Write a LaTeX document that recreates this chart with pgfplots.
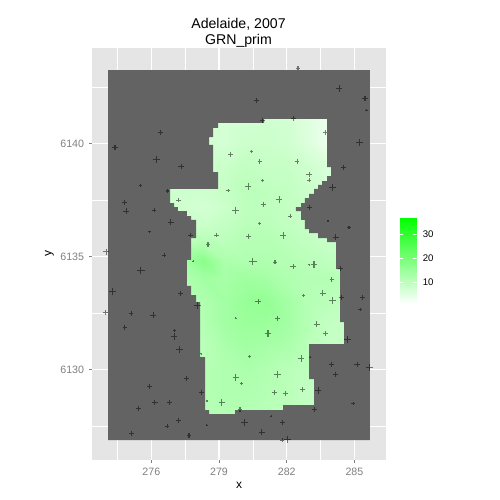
\documentclass[border=0pt]{standalone}
\usepackage{pgfplots}
\usepackage{pgfplotstable}
\usepackage{fontspec}
\setmainfont{Liberation Sans}
\pgfplotsset{compat=1.18}
\usepgfplotslibrary{patchplots}
\definecolor{panel}{HTML}{E5E5E5}
\definecolor{darkna}{HTML}{636363}
\definecolor{tickgrey}{HTML}{7F7F7F}
\pgfplotstableread{
x y v
276.5 6127.8 10.6
277.5 6127.8 11
278.3 6127.8 11.4
279.2 6127.8 11.4
280.2 6127.8 11.4
281.1 6127.8 10.6
282.0 6127.8 10
282.9 6127.8 9.4
283.8 6127.8 8.8
284.8 6127.8 8.8
276.5 6129 10.6
277.5 6129 11
278.3 6129 11.4
279.2 6129 12
280.2 6129 12
281.1 6129 11.4
282.0 6129 10.6
282.9 6129 9.4
283.8 6129 8.8
284.8 6129 8.8
276.5 6130 10.6
277.5 6130 11
278.3 6130 11.4
279.2 6130 12
280.2 6130 12.6
281.1 6130 12
282.0 6130 10.6
282.9 6130 10
283.8 6130 9.7
284.8 6130 9.7
276.5 6131 9.7
277.5 6131 10.6
278.3 6131 10.6
279.2 6131 12.6
280.2 6131 13.8
281.1 6131 13.2
282.0 6131 12.6
282.9 6131 10.6
283.8 6131 8.8
284.8 6131 8.8
276.5 6132 9.7
277.5 6132 10.6
278.3 6132 11.4
279.2 6132 13.8
280.2 6132 15
281.1 6132 15
282.0 6132 13.8
282.9 6132 11.4
283.8 6132 9.4
284.8 6132 8.8
276.5 6133 9.7
277.5 6133 10.6
278.3 6133 12
279.2 6133 13.8
280.2 6133 15.5
281.1 6133 16
282.0 6133 13.8
282.9 6133 11.4
283.8 6133 10.6
284.8 6133 9.4
276.5 6134 10.6
277.5 6134 12.3
278.3 6134 13.8
279.2 6134 13.2
280.2 6134 14.4
281.1 6134 13.8
282.0 6134 12
282.9 6134 11.4
283.8 6134 11.4
284.8 6134 10.6
276.5 6134.8 11.4
277.5 6134.8 14.1
278.3 6134.8 17.5
279.2 6134.8 12.6
280.2 6134.8 12
281.1 6134.8 12
282.0 6134.8 11.4
282.9 6134.8 10.6
283.8 6134.8 10
284.8 6134.8 9.7
276.5 6135.6 9.7
277.5 6135.6 10.6
278.3 6135.6 11.4
279.2 6135.6 10.6
280.2 6135.6 11.4
281.1 6135.6 11.4
282.0 6135.6 10.6
282.9 6135.6 9.7
283.8 6135.6 8.8
284.8 6135.6 8.8
276.5 6136.4 7.5
277.5 6136.4 7.9
278.3 6136.4 8.4
279.2 6136.4 9.4
280.2 6136.4 10.6
281.1 6136.4 10.6
282.0 6136.4 9.7
282.9 6136.4 8.8
283.8 6136.4 8.2
284.8 6136.4 7.9
276.5 6137.2 7.6
277.5 6137.2 7.6
278.3 6137.2 7
279.2 6137.2 8.2
280.2 6137.2 10
281.1 6137.2 10
282.0 6137.2 9.4
282.9 6137.2 8.4
283.8 6137.2 7.9
284.8 6137.2 7.9
276.5 6138 7.9
277.5 6138 7.9
278.3 6138 7.9
279.2 6138 8.8
280.2 6138 10.6
281.1 6138 10
282.0 6138 9.4
282.9 6138 8.2
283.8 6138 7
284.8 6138 7
276.5 6139 7.9
277.5 6139 7.9
278.3 6139 7.9
279.2 6139 8.4
280.2 6139 9.4
281.1 6139 8.8
282.0 6139 8.8
282.9 6139 7.6
283.8 6139 6.3
284.8 6139 6.2
276.5 6140 7
277.5 6140 7
278.3 6140 7
279.2 6140 7
280.2 6140 8.2
281.1 6140 8.2
282.0 6140 7.6
282.9 6140 5.7
283.8 6140 3.3
284.8 6140 3.5
276.5 6141.4 7
277.5 6141.4 7
278.3 6141.4 7
279.2 6141.4 6.6
280.2 6141.4 7
281.1 6141.4 7.5
282.0 6141.4 7
282.9 6141.4 5.7
283.8 6141.4 4
284.8 6141.4 3.5
}\fieldtable
\pgfplotstableread{
x y s
276.40 6140.49 7
274.39 6139.82 8
276.22 6139.29 11
277.32 6138.98 8
275.53 6138.12 5
276.73 6137.89 5
277.20 6137.49 7
279.52 6139.51 8
279.40 6137.90 5
282.50 6143.32 6
284.32 6142.43 10
285.47 6141.99 8
285.55 6141.47 4
280.65 6141.90 7
282.29 6141.11 7
280.92 6141.02 7
283.70 6140.49 7
285.22 6140.04 10
284.53 6138.94 7
284.04 6138.05 10
280.43 6139.63 5
280.81 6139.20 7
282.46 6139.20 7
282.99 6138.63 8
282.99 6138.36 6
280.94 6138.35 4
280.29 6138.10 10
281.66 6137.51 10
274.80 6137.39 7
274.88 6136.99 9
276.13 6137.04 6
279.74 6137.04 11
276.86 6136.50 9
275.93 6136.08 4
277.73 6135.94 7
278.88 6135.94 7
278.51 6135.53 7
274.01 6135.20 9
276.58 6135.04 6
277.86 6134.79 3
275.54 6134.38 11
274.27 6133.45 10
277.29 6133.36 8
278.04 6132.83 10
273.96 6132.52 7
275.10 6132.48 7
276.08 6132.39 9
279.75 6132.26 3
274.83 6131.86 7
277.04 6131.73 4
277.01 6131.46 10
277.24 6130.89 10
280.98 6137.30 8
283.00 6137.17 8
282.15 6136.77 6
280.79 6136.46 4
283.83 6136.55 3
284.76 6136.28 5
280.30 6135.89 8
281.84 6135.93 10
284.17 6135.84 9
280.50 6134.78 11
281.48 6134.73 6
282.28 6134.56 8
283.21 6134.65 10
283.00 6134.62 3
284.38 6134.47 8
284.00 6133.98 7
283.60 6133.36 9
282.74 6133.26 5
284.04 6133.05 10
284.42 6133.17 7
285.37 6133.19 8
280.73 6133.01 8
285.25 6132.66 5
281.60 6132.26 7
283.33 6131.99 9
281.17 6131.59 10
283.71 6131.59 8
284.68 6131.33 10
278.22 6130.69 3
277.55 6129.60 8
279.75 6129.65 10
275.91 6129.25 7
278.22 6128.98 7
278.46 6128.60 4
276.16 6128.54 8
276.80 6128.54 8
279.13 6128.54 10
275.42 6128.27 7
277.20 6127.74 8
276.71 6127.48 6
278.46 6127.52 3
275.11 6127.17 8
277.67 6127.08 7
280.36 6130.56 4
282.64 6130.49 10
283.05 6130.53 3
283.97 6130.22 8
285.12 6130.22 8
285.68 6130.09 10
284.16 6129.78 7
281.59 6129.78 11
280.01 6129.38 4
283.39 6129.07 10
282.69 6129.11 8
281.47 6128.98 8
281.96 6128.94 8
284.94 6128.50 5
283.23 6128.23 7
279.93 6128.23 7
280.14 6127.65 10
281.32 6127.92 3
281.81 6127.65 7
280.89 6127.21 9
282.02 6126.90 10
281.81 6126.87 6
}\pointtable
\begin{document}
\begin{tikzpicture}[x=0.75pt,y=0.75pt]
\useasboundingbox (0,0) rectangle (500,500);
\begin{axis}[
  at={(69pt,30pt)}, anchor=south west,
  scale only axis, width=220.5pt, height=309.2pt,
  xmin=273.37, xmax=286.40, ymin=6125.99, ymax=6144.23,
  axis background/.style={fill=panel},
  axis line style={draw=none},
  grid=both,
  major grid style={draw=white,line width=0.8pt},
  minor grid style={draw=white,line width=0.4pt},
  xtick={276,279,282,285}, ytick={6130,6135,6140},
  minor xtick={274.5,277.5,280.5,283.5},
  minor ytick={6127.5,6132.5,6137.5,6142.5},
  xtick pos=lower, ytick pos=left,
  tick align=outside,
  major tick length=2.4pt, minor tick length=0pt,
  tick style={draw=tickgrey,line width=0.6pt},
  ticklabel style={font=\fontsize{8pt}{9pt}\selectfont,text=tickgrey},
  /pgf/number format/assume math mode=true,
  /pgf/number format/1000 sep={},
  xlabel={x}, ylabel={y},
  label style={font=\fontsize{9pt}{10pt}\selectfont},
  xlabel style={yshift=1.5pt},
  ylabel style={yshift=-2pt},
  colormap={wg}{color(0)=(white) color(1)=(rgb,255:red,0;green,255;blue,0)},
  point meta min=0.83, point meta max=36.9,
  clip=true,
]
\addplot[surf, shader=interp, mesh/rows=15, mesh/ordering=x varies, point meta=\thisrow{v}] table[x=x,y=y] {\fieldtable};
\addplot[fill=darkna, draw=none, even odd rule, unbounded coords=jump, forget plot] coordinates {
(274.08,6143.24)(285.69,6143.24)(285.69,6126.87)(274.08,6126.87)(274.08,6143.24)
(nan,nan)
(278.96,6140.90)(278.96,6140.68)(278.74,6140.68)(278.74,6140.28)(278.56,6140.28)(278.56,6139.93)(278.74,6139.93)(278.74,6138.73)(278.96,6138.73)(278.96,6137.98)(276.83,6137.98)(276.83,6137.36)(277.01,6137.36)(277.01,6137.18)(277.18,6137.18)(277.18,6137.00)(277.58,6137.00)(277.58,6136.78)(277.76,6136.78)(277.76,6136.61)(277.98,6136.61)(277.98,6135.81)(277.76,6135.81)(277.76,6134.84)(277.58,6134.84)(277.58,6133.69)(277.76,6133.69)(277.76,6133.29)(277.98,6133.29)(277.98,6132.98)(278.16,6132.98)(278.16,6130.54)(278.38,6130.54)(278.38,6128.20)(278.56,6128.20)(278.56,6128.02)(279.71,6128.02)(279.71,6128.20)(281.84,6128.20)(281.84,6128.42)(283.21,6128.42)(283.21,6129.57)(282.99,6129.57)(282.99,6131.12)(284.54,6131.12)(284.54,6132.09)(284.37,6132.09)(284.37,6134.44)(284.19,6134.44)(284.19,6135.63)(283.79,6135.63)(283.79,6135.81)(283.39,6135.81)(283.39,6136.03)(282.99,6136.03)(282.99,6136.21)(282.81,6136.21)(282.81,6136.61)(282.64,6136.61)(282.64,6137.00)(282.41,6137.00)(282.41,6137.18)(282.64,6137.18)(282.64,6137.36)(282.81,6137.36)(282.81,6137.58)(282.99,6137.58)(282.99,6137.76)(283.21,6137.76)(283.21,6137.98)(283.39,6137.98)(283.39,6138.16)(283.57,6138.16)(283.57,6138.33)(283.79,6138.33)(283.79,6138.55)(283.97,6138.55)(283.97,6138.95)(283.79,6138.95)(283.79,6141.08)(281.00,6141.08)(281.00,6140.90)(278.96,6140.90)
};
\addplot[only marks, mark=+, scatter,
  point meta=\thisrow{s},
  visualization depends on={\thisrow{s}*0.25\as\ms},
  scatter/use mapped color={draw=black,draw opacity=0.5},
  scatter/@pre marker code/.append code={\pgfsetlinewidth{0.8pt}\pgfsetstrokeopacity{0.5}\pgfsetplotmarksize{\ms pt}},
] table[x=x,y=y] {\pointtable};
\end{axis}
\begin{axis}[
  at={(300pt,146.8pt)}, anchor=south west,
  scale only axis, width=12.4pt, height=64.95pt,
  xmin=0, xmax=1, ymin=0.83, ymax=36.9,
  axis line style={draw=none},
  xtick=\empty,
  ytick={10,20,30},
  yticklabel pos=right,
  major tick length=0pt,
  ticklabel style={font=\fontsize{7.2pt}{8pt}\selectfont,text=black,xshift=1.2pt},
  /pgf/number format/assume math mode=true,
  colormap={wg}{color(0)=(white) color(1)=(rgb,255:red,0;green,255;blue,0)},
  point meta min=0.83, point meta max=36.9,
]
\addplot[surf, shader=interp, mesh/rows=2, mesh/ordering=x varies, point meta=y] coordinates {
(0,0.83)(1,0.83)
(0,36.9)(1,36.9)
};
\addplot[white,line width=0.4pt,forget plot] coordinates {(0,10)(0.2,10)};
\addplot[white,line width=0.4pt,forget plot] coordinates {(0.8,10)(1,10)};
\addplot[white,line width=0.4pt,forget plot] coordinates {(0,20)(0.2,20)};
\addplot[white,line width=0.4pt,forget plot] coordinates {(0.8,20)(1,20)};
\addplot[white,line width=0.4pt,forget plot] coordinates {(0,30)(0.2,30)};
\addplot[white,line width=0.4pt,forget plot] coordinates {(0.8,30)(1,30)};
\end{axis}
\node[font=\fontsize{10.6pt}{12pt}\selectfont,anchor=base] at (238.5,471) {Adelaide, 2007};
\node[font=\fontsize{10.6pt}{12pt}\selectfont,anchor=base] at (238.5,455) {GRN\_prim};
\end{tikzpicture}
\end{document}
